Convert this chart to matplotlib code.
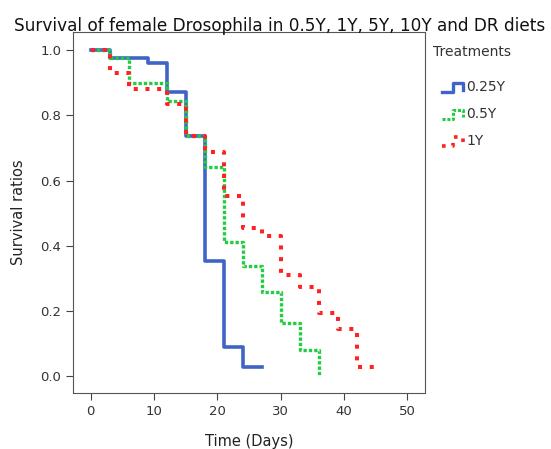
import matplotlib
matplotlib.use('Agg')
import matplotlib.pyplot as plt
from matplotlib.lines import Line2D

# survival ratios
days_025 = [0, 3, 9, 12, 15, 18, 21, 24, 27]
surv_025 = [1.0, 0.977, 0.961, 0.872, 0.737, 0.351, 0.089, 0.026, 0.026]

days_05 = [0, 3, 6, 12, 15, 18, 21, 24, 27, 30, 33, 36]
surv_05 = [1.0, 0.977, 0.90, 0.846, 0.737, 0.643, 0.412, 0.337, 0.258, 0.161, 0.079, 0.0]

days_1 = [0, 3, 6, 12, 15, 18, 21, 24, 27, 30, 33, 36, 39, 42, 45]
surv_1 = [1.0, 0.932, 0.881, 0.836, 0.737, 0.689, 0.551, 0.453, 0.43, 0.31, 0.274, 0.192, 0.143, 0.026, 0.026]

labels = ['0.25Y', '0.5Y', '1Y']
colors = ['#4063c8', '#22cc44', '#ff2222']

fig = plt.figure(figsize=(5.51, 4.49), dpi=100)
ax = fig.add_axes([0.1325, 0.125, 0.638, 0.804])

green_ls = (0, (1.0, 0.6))
red_ls = (0, (1.0, 1.9))
ax.step(days_025, surv_025, where='post', color=colors[0], lw=2.6)
ax.step(days_05, surv_05, where='post', color=colors[1], lw=2.4, ls=green_ls)
ax.step(days_1, surv_1, where='post', color=colors[2], lw=2.9, ls=red_ls)

ax.set_xlim(-2.8, 52.7)
ax.set_ylim(-0.053, 1.057)
ax.set_xticks([0, 10, 20, 30, 40, 50])
ax.set_yticks([0.0, 0.2, 0.4, 0.6, 0.8, 1.0])
ax.set_yticklabels(['0.0', '0.2', '0.4', '0.6', '0.8', '1.0'])
ax.tick_params(labelsize=9.5, length=5, color='#444444', labelcolor='#333333')
for s in ax.spines.values():
    s.set_color('#555555')
ax.set_xlabel('Time (Days)', fontsize=10.5, color='#222222', labelpad=12)
ax.set_ylabel('Survival ratios', fontsize=10.5, color='#222222', labelpad=10)
fig.text(0.508, 0.942, 'Survival of female Drosophila in 0.5Y, 1Y, 5Y, 10Y and DR diets',
         ha='center', va='center', fontsize=12.2, color='#111111')

# legend drawn by hand so the icons look like little steps
fig.text(433 / 551, 1 - 52 / 449, 'Treatments', fontsize=10, color='#333333', va='center')
styles = ['-', green_ls, red_ls]
widths = [2.4, 2.2, 2.6]
for i, lab in enumerate(labels):
    yc = 88 + i * 27
    xs = [442, 453, 453, 463, 463]
    ys = [yc + 4, yc + 4, yc - 5, yc - 5, yc + 2]
    fig.add_artist(Line2D([x / 551 for x in xs], [1 - y / 449 for y in ys],
                          color=colors[i], lw=widths[i], ls=styles[i]))
    fig.text(466 / 551, 1 - (yc - 1) / 449, lab, fontsize=10, color='#333333', va='center')

fig.savefig('out.png', dpi=100)
